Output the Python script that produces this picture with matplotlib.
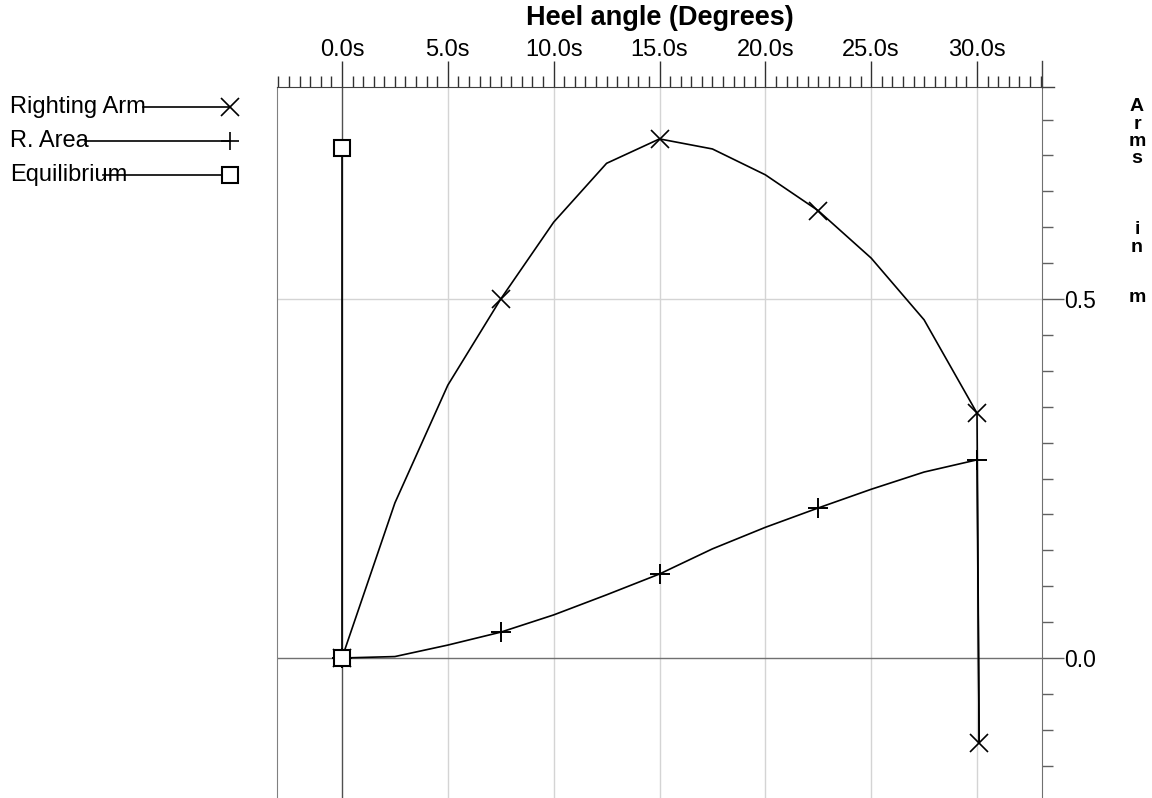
import matplotlib
matplotlib.use("Agg")
import matplotlib.pyplot as plt
from matplotlib.ticker import MultipleLocator, FormatStrFormatter

plt.rcParams['font.family'] = ['Liberation Sans', 'DejaVu Sans']

# heel angle in degrees
heel = [0.0, 2.5, 5.0, 7.5, 10.0, 12.5, 15.0, 17.5, 20.0, 22.5, 25.0, 27.5, 30.0, 30.1]
righting_arm = [0.0, 0.216, 0.380, 0.500, 0.607, 0.689, 0.723, 0.709, 0.673,
                0.623, 0.557, 0.471, 0.341, -0.118]
r_area = [0.0, 0.002, 0.018, 0.036, 0.060, 0.088, 0.117, 0.152, 0.182,
          0.209, 0.235, 0.259, 0.276, -0.118]
equil_x = [0.0, 0.0]
equil_y = [0.0, 0.710]

legend_names = ["Righting Arm", "R. Area", "Equilibrium"]

W, H = 1152, 798
fig = plt.figure(figsize=(W / 100, H / 100), dpi=100)

# main axes placed in pixel terms
left, right, top = 277, 1042, 87
ax = fig.add_axes([left / W, 0, (right - left) / W, (H - top) / H])
ax.set_xlim(-3.07, 33.07)
ax.set_ylim(-0.195, 0.7953)

# grid / reference lines
for g in [5, 10, 15, 20, 25, 30]:
    ax.axvline(g, color='#d4d4d4', lw=1, zorder=0)
ax.axhline(0.5, color='#d4d4d4', lw=1, zorder=0)
ax.axhline(0.0, color='#707070', lw=1, zorder=1)
ax.axvline(0.0, color='#505050', lw=1, zorder=1)

ax.plot(heel, righting_arm, color='black', lw=1.2, marker='x', ms=13, mew=1.2,
        markevery=[0, 3, 6, 9, 12, 13], zorder=3)
ax.plot(heel, r_area, color='black', lw=1.2, marker='+', ms=14, mew=1.4,
        markevery=[0, 3, 6, 9, 12], zorder=3)
ax.plot(equil_x, equil_y, color='black', lw=1.2, marker='s', ms=11, mew=1.5,
        mfc='white', mec='black', zorder=4)

# spines
ax.spines['bottom'].set_visible(False)
ax.spines['top'].set_color('#404040')
ax.spines['left'].set_color('#808080')
ax.spines['right'].set_color('#707070')

# top axis
ax.xaxis.tick_top()
ax.set_xticks([0, 5, 10, 15, 20, 25, 30])
ax.xaxis.set_minor_locator(MultipleLocator(0.5))
ax.xaxis.set_major_formatter(FormatStrFormatter('%.1fs'))
ax.tick_params(axis='x', which='major', top=True, bottom=False, direction='out',
               length=19, width=1, color='#303030', labelsize=17, pad=0)
ax.tick_params(axis='x', which='minor', top=True, bottom=False, direction='out',
               length=8, width=1, color='#303030')

# right axis
ax.yaxis.tick_right()
ax.set_yticks([0.0, 0.5])
ax.yaxis.set_minor_locator(MultipleLocator(0.05))
ax.yaxis.set_major_formatter(FormatStrFormatter('%.1f'))
ax.tick_params(axis='y', which='major', direction='out', length=16, width=1,
               color='#606060', labelsize=16.5, pad=0)
ax.tick_params(axis='y', which='minor', direction='out', length=8, width=1,
               color='#606060')

# overlay in pixel coords for legend, title and vertical label
ov = fig.add_axes([0, 0, 1, 1], facecolor='none')
ov.set_xlim(0, W)
ov.set_ylim(H, 0)
ov.axis('off')

ov.text((left + right) / 2, 18, 'Heel angle (Degrees)', fontsize=19.5,
        fontweight='bold', ha='center', va='center')

ov.plot([right, right], [top, top - 26], color='#404040', lw=1)
ov.plot([right, right + 12], [top, top], color='#404040', lw=1)

leg_y = [107, 141, 175]
line_start = [143, 85, 103]
markers = ['x', '+', 's']
for name, yy, xs, mk in zip(legend_names, leg_y, line_start, markers):
    ov.text(10, yy, name, fontsize=17, va='center', ha='left')
    ov.plot([xs, 230], [yy, yy], color='black', lw=1.2)
    if mk == 's':
        ov.plot([230], [yy], marker='s', ms=11, mew=1.5, mfc='white', mec='black')
    else:
        ov.plot([230], [yy], marker=mk, ms=13, mew=1.2, color='black')

letters = ['A', 'r', 'm', 's', 'i', 'n', 'm']
letter_base = [111, 129, 146, 163, 234, 252, 302]
for ch, yb in zip(letters, letter_base):
    ov.text(1137, yb, ch, fontsize=14, fontweight='bold', ha='center', va='baseline')

fig.savefig('out.png', dpi=100)
